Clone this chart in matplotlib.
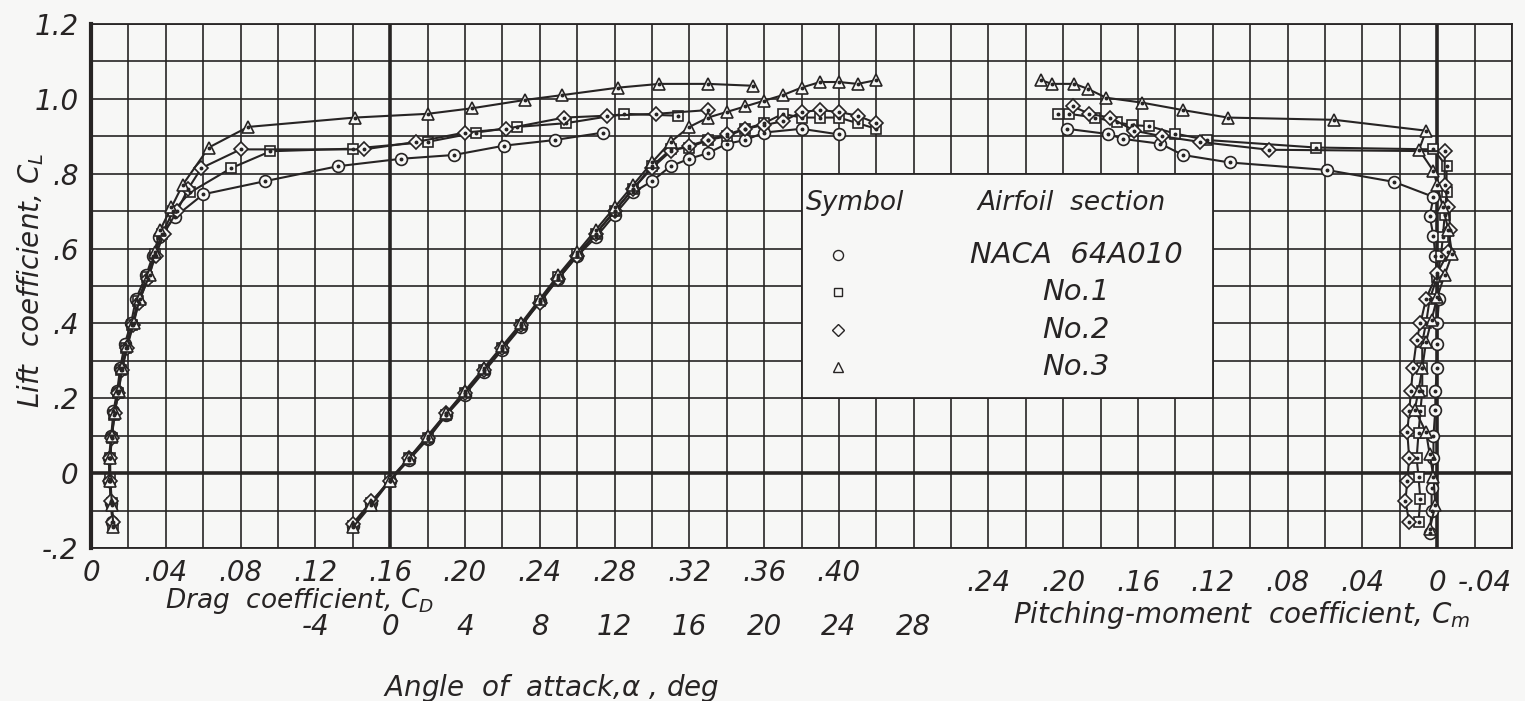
import matplotlib.pyplot as plt
import numpy as np
from matplotlib.patches import Rectangle

# =========================
# DATA
# =========================

# lift curves, CL against angle of attack (deg)
alpha_64a010 = [-2, -1, 0, 1, 2, 3, 4, 5, 6, 7, 8, 9, 10, 11, 12, 13,
                14, 15, 16, 17, 18, 19, 20, 22, 24]
cl_alpha_64a010 = [-0.14, -0.08, -0.02, 0.035, 0.09, 0.155, 0.21, 0.27,
                   0.33, 0.39, 0.46, 0.52, 0.58, 0.63, 0.69, 0.75, 0.78,
                   0.82, 0.84, 0.855, 0.88, 0.89, 0.91, 0.92, 0.905]

alpha_no1 = list(range(-2, 27))
cl_alpha_no1 = [-0.14, -0.08, -0.015, 0.04, 0.095, 0.155, 0.215, 0.275,
                0.335, 0.395, 0.46, 0.525, 0.585, 0.64, 0.70, 0.76, 0.82,
                0.865, 0.87, 0.89, 0.90, 0.92, 0.935, 0.96, 0.95, 0.95,
                0.95, 0.935, 0.92]

alpha_no2 = list(range(-2, 27))
cl_alpha_no2 = [-0.135, -0.075, -0.02, 0.04, 0.095, 0.16, 0.215, 0.275,
                0.335, 0.395, 0.455, 0.52, 0.58, 0.64, 0.70, 0.76, 0.815,
                0.86, 0.875, 0.89, 0.905, 0.92, 0.93, 0.94, 0.965, 0.97,
                0.965, 0.955, 0.935]

alpha_no3 = list(range(-2, 27))
cl_alpha_no3 = [-0.145, -0.085, -0.02, 0.04, 0.10, 0.16, 0.22, 0.28, 0.34,
                0.40, 0.465, 0.53, 0.59, 0.65, 0.71, 0.77, 0.83, 0.885,
                0.925, 0.95, 0.965, 0.98, 0.995, 1.01, 1.03, 1.045, 1.045,
                1.04, 1.05]

# drag polars, CL against CD
cd_64a010 = [0.0114, 0.0108, 0.0098, 0.0096, 0.0108, 0.012, 0.014, 0.0156,
             0.018, 0.0214, 0.024, 0.0296, 0.033, 0.0364, 0.045, 0.060,
             0.093, 0.132, 0.166, 0.194, 0.221, 0.248, 0.274]
cl_cd_64a010 = [-0.13, -0.08, -0.02, 0.04, 0.10, 0.165, 0.22, 0.28, 0.345,
                0.40, 0.465, 0.53, 0.58, 0.63, 0.685, 0.745, 0.78, 0.82,
                0.84, 0.85, 0.875, 0.89, 0.91]

cd_no1 = [0.0118, 0.011, 0.0102, 0.0100, 0.011, 0.0124, 0.0144, 0.016,
          0.0186, 0.022, 0.025, 0.030, 0.034, 0.038, 0.044, 0.053, 0.075,
          0.096, 0.14, 0.18, 0.206, 0.228, 0.254, 0.285, 0.314]
cl_cd_no1 = [-0.14, -0.08, -0.015, 0.04, 0.095, 0.155, 0.215, 0.275, 0.335,
             0.395, 0.46, 0.525, 0.585, 0.64, 0.70, 0.75, 0.815, 0.86,
             0.867, 0.885, 0.91, 0.925, 0.935, 0.96, 0.955]

cd_no2 = [0.0115, 0.0106, 0.0100, 0.0102, 0.0112, 0.0126, 0.0146, 0.0164,
          0.019, 0.0222, 0.0255, 0.0305, 0.0345, 0.039, 0.046, 0.052, 0.059,
          0.080, 0.146, 0.174, 0.200, 0.222, 0.253, 0.276, 0.302, 0.330]
cl_cd_no2 = [-0.13, -0.075, -0.02, 0.04, 0.095, 0.16, 0.215, 0.275, 0.335,
             0.395, 0.455, 0.52, 0.58, 0.64, 0.70, 0.76, 0.815, 0.865,
             0.865, 0.885, 0.91, 0.92, 0.95, 0.955, 0.96, 0.97]

cd_no3 = [0.012, 0.0112, 0.0104, 0.0102, 0.0112, 0.0126, 0.0148, 0.0168,
          0.0195, 0.0228, 0.026, 0.0315, 0.034, 0.037, 0.043, 0.049, 0.063,
          0.084, 0.141, 0.180, 0.204, 0.232, 0.252, 0.282, 0.304, 0.330,
          0.354]
cl_cd_no3 = [-0.145, -0.085, -0.02, 0.04, 0.10, 0.16, 0.22, 0.28, 0.34,
             0.40, 0.465, 0.53, 0.59, 0.65, 0.71, 0.77, 0.87, 0.925, 0.95,
             0.96, 0.975, 0.997, 1.01, 1.03, 1.04, 1.04, 1.035]

# pitching moment, CL against Cm
cm_64a010 = [0.004, 0.003, 0.003, 0.002, 0.002, 0.001, 0.001, 0.0, 0.0,
             0.0, -0.001, 0.0, 0.001, 0.002, 0.004, 0.002, 0.023, 0.059,
             0.111, 0.136, 0.148, 0.168, 0.176, 0.198]
cl_cm_64a010 = [-0.16, -0.10, -0.04, 0.04, 0.10, 0.17, 0.22, 0.28, 0.346,
                0.40, 0.464, 0.53, 0.58, 0.633, 0.686, 0.738, 0.778, 0.81,
                0.83, 0.85, 0.88, 0.893, 0.906, 0.92]

cm_no1 = [0.010, 0.009, 0.010, 0.011, 0.010, 0.009, 0.008, 0.008, 0.008,
          0.006, 0.004, 0.0, -0.002, -0.003, -0.004, -0.005, -0.005, 0.002,
          0.065, 0.123, 0.14, 0.154, 0.163, 0.171, 0.183, 0.197, 0.203]
cl_cm_no1 = [-0.13, -0.07, -0.01, 0.04, 0.107, 0.165, 0.22, 0.28, 0.35,
             0.40, 0.465, 0.525, 0.58, 0.63, 0.69, 0.75, 0.82, 0.865, 0.87,
             0.89, 0.907, 0.927, 0.93, 0.937, 0.95, 0.96, 0.96]

cm_no2 = [0.015, 0.017, 0.016, 0.015, 0.016, 0.015, 0.014, 0.013, 0.011,
          0.009, 0.006, 0.0, -0.006, -0.007, -0.006, -0.004, -0.004, 0.090,
          0.127, 0.147, 0.162, 0.175, 0.186, 0.195]
cl_cm_no2 = [-0.13, -0.075, -0.02, 0.04, 0.11, 0.165, 0.22, 0.28, 0.355,
             0.40, 0.465, 0.535, 0.59, 0.65, 0.71, 0.77, 0.86, 0.864, 0.885,
             0.90, 0.915, 0.95, 0.96, 0.98]

cm_no3 = [0.004, 0.001, 0.002, 0.004, 0.006, 0.012, 0.010, 0.008, 0.006,
          0.003, 0.0, -0.004, -0.008, -0.006, -0.003, 0.0, 0.002, 0.0097,
          0.006, 0.055, 0.112, 0.136, 0.158, 0.177, 0.187, 0.194, 0.206,
          0.212]
cl_cm_no3 = [-0.15, -0.085, -0.01, 0.05, 0.11, 0.17, 0.22, 0.28, 0.35, 0.41,
             0.47, 0.53, 0.585, 0.65, 0.71, 0.77, 0.807, 0.864, 0.915, 0.944,
             0.95, 0.97, 0.99, 1.003, 1.027, 1.04, 1.04, 1.05]

section_names = ["NACA  64A010", "No.1", "No.2", "No.3"]

cd_ticks = [0, 0.04, 0.08, 0.12, 0.16, 0.20, 0.24, 0.28, 0.32, 0.36, 0.40]
cd_tick_labels = ["0", ".04", ".08", ".12", ".16", ".20", ".24", ".28",
                  ".32", ".36", ".40"]
alpha_ticks = [-4, 0, 4, 8, 12, 16, 20, 24, 28]
cm_ticks = [0.24, 0.20, 0.16, 0.12, 0.08, 0.04, 0, -0.04]
cm_tick_labels = [".24", ".20", ".16", ".12", ".08", ".04", "0", "-.04"]
cl_ticks = [-0.2, 0, 0.2, 0.4, 0.6, 0.8, 1.0, 1.2]
cl_tick_labels = ["-.2", "0", ".2", ".4", ".6", ".8", "1.0", "1.2"]

# =========================
# STYLE
# =========================

INK = "#272424"
PAPER = "#f7f7f6"

plt.rcParams["font.family"] = "DejaVu Sans"
plt.rcParams["font.style"] = "italic"
plt.rcParams["mathtext.fontset"] = "dejavusans"

markers = [("o", 8.5), ("s", 7.5), ("D", 7.0), ("^", 8.5)]

# =========================
# FIGURE
# =========================

fig = plt.figure(figsize=(15.25, 7.01), dpi=100)
fig.patch.set_facecolor(PAPER)

ax = fig.add_axes([91 / 1525, 1 - 548 / 701, 1421 / 1525, 524 / 701])
ax.set_facecolor(PAPER)
ax.set_xlim(0, 0.76)
ax.set_ylim(-0.2, 1.2)

ax_a = ax.twiny()
ax_a.set_xlim(-16, 60)

ax_m = ax.twiny()
ax_m.set_xlim(0.72, -0.04)

# =========================
# GRID
# =========================

ax.set_axisbelow(True)
ax.set_xticks(cd_ticks, cd_tick_labels)
ax.set_xticks(np.arange(0, 0.761, 0.02), minor=True)
ax.set_yticks(cl_ticks, cl_tick_labels)
ax.set_yticks(np.arange(-0.2, 1.21, 0.1), minor=True)
ax.grid(which="both", color=INK, linewidth=1.2)

ax.tick_params(which="both", length=0)
ax.tick_params(axis="x", pad=8, labelsize=20, labelcolor=INK)
ax.tick_params(axis="y", pad=9, labelsize=20, labelcolor=INK)

for side in ["top", "right", "bottom"]:
    ax.spines[side].set_linewidth(1.3)
    ax.spines[side].set_color(INK)
ax.spines["left"].set_linewidth(3.0)
ax.spines["left"].set_color(INK)

ax.axhline(0, color=INK, linewidth=2.6, zorder=1.5)
ax_a.axvline(0, color=INK, linewidth=2.6, zorder=1.5)
ax_m.axvline(0, color=INK, linewidth=2.6, zorder=1.5)

# =========================
# SECONDARY SCALES
# =========================

ax_a.xaxis.set_ticks_position("bottom")
ax_a.xaxis.set_label_position("bottom")
ax_a.set_xticks(alpha_ticks, [str(a) for a in alpha_ticks])
ax_a.tick_params(axis="x", length=0, pad=47, labelsize=20,
                 labelcolor=INK)

ax_m.xaxis.set_ticks_position("bottom")
ax_m.xaxis.set_label_position("bottom")
ax_m.set_xticks(cm_ticks, cm_tick_labels)
ax_m.tick_params(axis="x", length=0, pad=15, labelsize=20,
                 labelcolor=INK)
ax_m.get_xticklabels()[-1].set_horizontalalignment("right")

for extra in [ax_a, ax_m]:
    for s in extra.spines.values():
        s.set_visible(False)

# =========================
# LEGEND BOX
# =========================

ax.add_patch(Rectangle((0.38, 0.2), 0.22, 0.6, facecolor=PAPER,
                       edgecolor=INK, linewidth=1.3, zorder=2))

# =========================
# CURVES
# =========================


def draw(axis, x, y, marker, size):
    axis.plot(x, y, color=INK, linewidth=1.5, marker=marker,
              markersize=size, markerfacecolor=PAPER,
              markeredgecolor=INK, markeredgewidth=1.2, zorder=3)
    axis.plot(x, y, linestyle="none", marker="o", markersize=1.8,
              color=INK, zorder=4)


lift_sets = [(alpha_64a010, cl_alpha_64a010), (alpha_no1, cl_alpha_no1),
             (alpha_no2, cl_alpha_no2), (alpha_no3, cl_alpha_no3)]
drag_sets = [(cd_64a010, cl_cd_64a010), (cd_no1, cl_cd_no1),
             (cd_no2, cl_cd_no2), (cd_no3, cl_cd_no3)]
moment_sets = [(cm_64a010, cl_cm_64a010), (cm_no1, cl_cm_no1),
               (cm_no2, cl_cm_no2), (cm_no3, cl_cm_no3)]

for (m, s), (xa, ya), (xd, yd), (xm, ym) in zip(markers, lift_sets,
                                                 drag_sets, moment_sets):
    draw(ax, xd, yd, m, s)
    draw(ax_a, xa, ya, m, s)
    draw(ax_m, xm, ym, m, s)

# =========================
# AXIS TITLES
# =========================

ax.set_xlabel("Drag  coefficient, $C_D$", fontsize=19, color=INK)
ax.xaxis.set_label_coords(0.147, -0.072)

ax_a.set_xlabel("Angle  of  attack,$\\alpha$ , deg", fontsize=20, color=INK)
ax_a.xaxis.set_label_coords(0.324, -0.236)

ax_m.set_xlabel("Pitching-moment  coefficient, $C_m$", fontsize=20,
                color=INK)
ax_m.xaxis.set_label_coords(0.81, -0.098)

ax.set_ylabel("Lift  coefficient, $C_L$", fontsize=20, color=INK)
ax.yaxis.set_label_coords(-0.032, 0.511)

# =========================
# LEGEND TEXT
# =========================

fig.text(855 / 1525, 1 - 203 / 701, "Symbol", fontsize=19, color=INK,
         ha="center", va="center")
fig.text(1072 / 1525, 1 - 203 / 701, "Airfoil  section", fontsize=19,
         color=INK, ha="center", va="center")

legend_rows = [255, 292, 330, 367]
for (m, s), name, row in zip(markers, section_names, legend_rows):
    ax.plot([838 / 1525], [1 - row / 701], marker=m, markersize=s * 0.85,
            markerfacecolor=PAPER, markeredgecolor=INK,
            markeredgewidth=1.0, transform=fig.transFigure,
            clip_on=False, zorder=5)
    fig.text(1076 / 1525, 1 - row / 701, name, fontsize=21, color=INK,
             ha="center", va="center")

# =========================
# SAVE
# =========================

fig.savefig("out.png", dpi=100, facecolor=fig.get_facecolor())
